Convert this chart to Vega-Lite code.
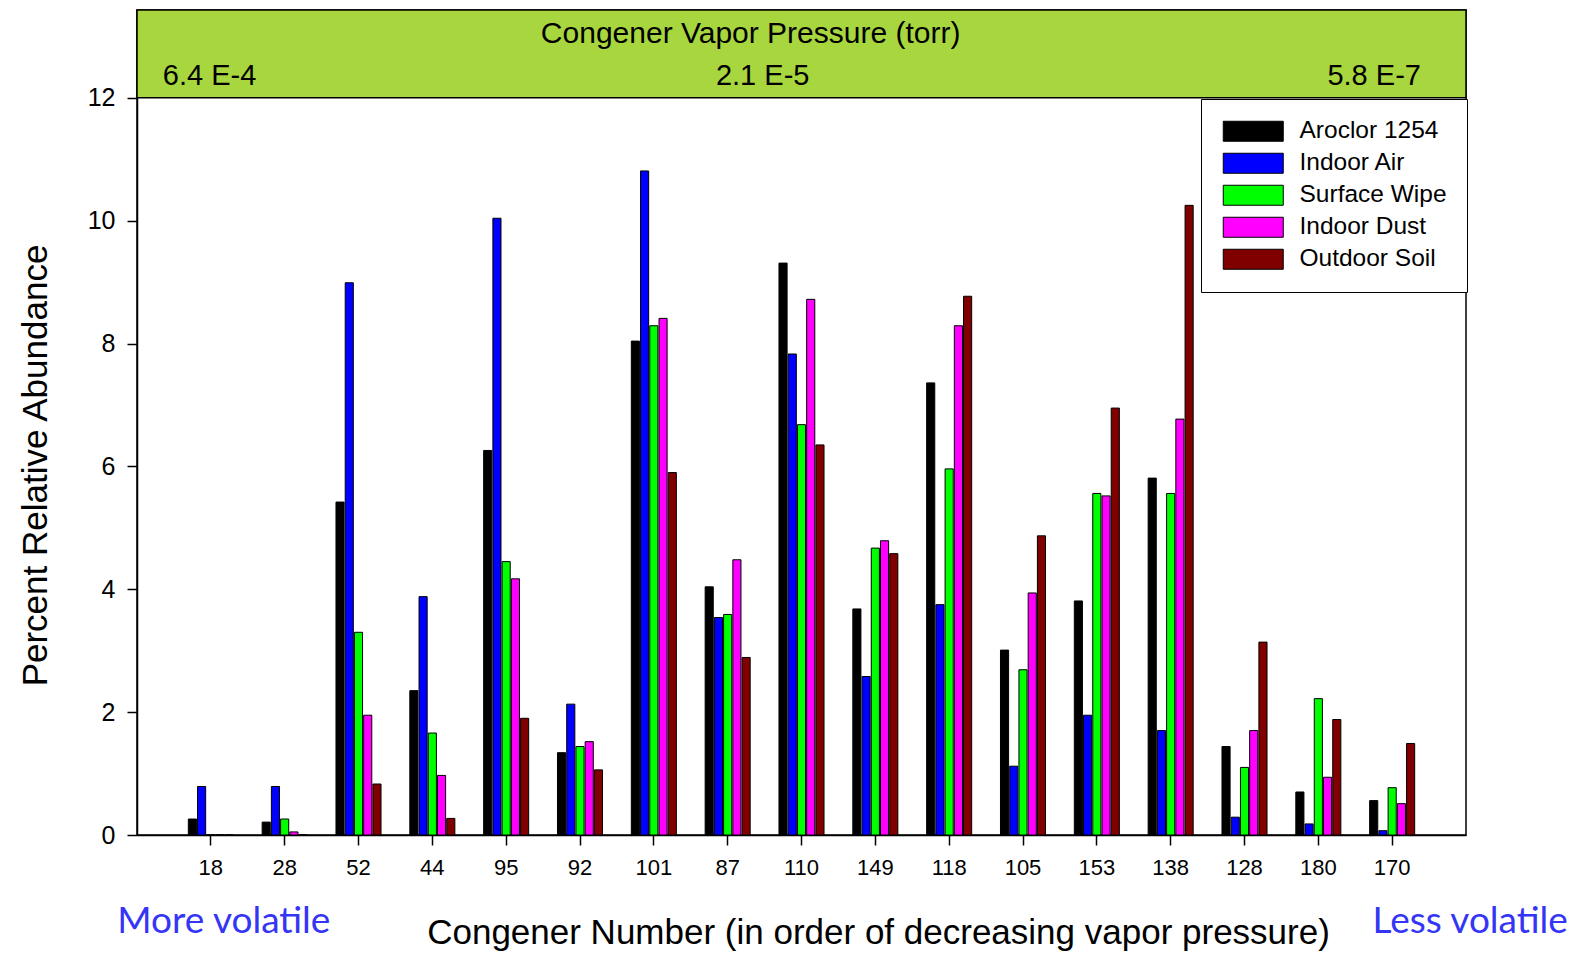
{
  "$schema": "https://vega.github.io/schema/vega-lite/v6.json",
  "autosize": {"type": "none"},
  "width": 1329,
  "height": 825,
  "padding": {"left": 137, "top": 10, "right": 109, "bottom": 119},
  "background": "white",
  "config": {
    "view": {"stroke": "black", "strokeWidth": 1.5},
    "font": "Liberation Sans",
    "legend": {"strokeColor": "black", "fillColor": "white", "padding": 20},
    "axis": {"domainColor": "black", "domainWidth": 1.5, "tickColor": "black", "tickWidth": 1.5, "labelColor": "black", "titleColor": "black", "grid": false, "labelFont": "Liberation Sans", "titleFont": "Liberation Sans", "titleFontWeight": "normal"}
  },
  "data": {"values": [
    {"congener": "18", "series": "Aroclor 1254", "value": 0.26},
    {"congener": "18", "series": "Indoor Air", "value": 0.79},
    {"congener": "18", "series": "Surface Wipe", "value": 0},
    {"congener": "18", "series": "Indoor Dust", "value": 0},
    {"congener": "18", "series": "Outdoor Soil", "value": 0},
    {"congener": "28", "series": "Aroclor 1254", "value": 0.21},
    {"congener": "28", "series": "Indoor Air", "value": 0.79},
    {"congener": "28", "series": "Surface Wipe", "value": 0.26},
    {"congener": "28", "series": "Indoor Dust", "value": 0.05},
    {"congener": "28", "series": "Outdoor Soil", "value": 0},
    {"congener": "52", "series": "Aroclor 1254", "value": 5.42},
    {"congener": "52", "series": "Indoor Air", "value": 8.99},
    {"congener": "52", "series": "Surface Wipe", "value": 3.30},
    {"congener": "52", "series": "Indoor Dust", "value": 1.95},
    {"congener": "52", "series": "Outdoor Soil", "value": 0.83},
    {"congener": "44", "series": "Aroclor 1254", "value": 2.35},
    {"congener": "44", "series": "Indoor Air", "value": 3.88},
    {"congener": "44", "series": "Surface Wipe", "value": 1.66},
    {"congener": "44", "series": "Indoor Dust", "value": 0.97},
    {"congener": "44", "series": "Outdoor Soil", "value": 0.27},
    {"congener": "95", "series": "Aroclor 1254", "value": 6.26},
    {"congener": "95", "series": "Indoor Air", "value": 10.04},
    {"congener": "95", "series": "Surface Wipe", "value": 4.45},
    {"congener": "95", "series": "Indoor Dust", "value": 4.17},
    {"congener": "95", "series": "Outdoor Soil", "value": 1.90},
    {"congener": "92", "series": "Aroclor 1254", "value": 1.34},
    {"congener": "92", "series": "Indoor Air", "value": 2.13},
    {"congener": "92", "series": "Surface Wipe", "value": 1.44},
    {"congener": "92", "series": "Indoor Dust", "value": 1.52},
    {"congener": "92", "series": "Outdoor Soil", "value": 1.06},
    {"congener": "101", "series": "Aroclor 1254", "value": 8.04},
    {"congener": "101", "series": "Indoor Air", "value": 10.81},
    {"congener": "101", "series": "Surface Wipe", "value": 8.29},
    {"congener": "101", "series": "Indoor Dust", "value": 8.41},
    {"congener": "101", "series": "Outdoor Soil", "value": 5.90},
    {"congener": "87", "series": "Aroclor 1254", "value": 4.04},
    {"congener": "87", "series": "Indoor Air", "value": 3.54},
    {"congener": "87", "series": "Surface Wipe", "value": 3.59},
    {"congener": "87", "series": "Indoor Dust", "value": 4.48},
    {"congener": "87", "series": "Outdoor Soil", "value": 2.89},
    {"congener": "110", "series": "Aroclor 1254", "value": 9.31},
    {"congener": "110", "series": "Indoor Air", "value": 7.83},
    {"congener": "110", "series": "Surface Wipe", "value": 6.68},
    {"congener": "110", "series": "Indoor Dust", "value": 8.72},
    {"congener": "110", "series": "Outdoor Soil", "value": 6.35},
    {"congener": "149", "series": "Aroclor 1254", "value": 3.68},
    {"congener": "149", "series": "Indoor Air", "value": 2.58},
    {"congener": "149", "series": "Surface Wipe", "value": 4.67},
    {"congener": "149", "series": "Indoor Dust", "value": 4.79},
    {"congener": "149", "series": "Outdoor Soil", "value": 4.58},
    {"congener": "118", "series": "Aroclor 1254", "value": 7.36},
    {"congener": "118", "series": "Indoor Air", "value": 3.75},
    {"congener": "118", "series": "Surface Wipe", "value": 5.96},
    {"congener": "118", "series": "Indoor Dust", "value": 8.29},
    {"congener": "118", "series": "Outdoor Soil", "value": 8.77},
    {"congener": "105", "series": "Aroclor 1254", "value": 3.01},
    {"congener": "105", "series": "Indoor Air", "value": 1.12},
    {"congener": "105", "series": "Surface Wipe", "value": 2.69},
    {"congener": "105", "series": "Indoor Dust", "value": 3.94},
    {"congener": "105", "series": "Outdoor Soil", "value": 4.87},
    {"congener": "153", "series": "Aroclor 1254", "value": 3.81},
    {"congener": "153", "series": "Indoor Air", "value": 1.95},
    {"congener": "153", "series": "Surface Wipe", "value": 5.56},
    {"congener": "153", "series": "Indoor Dust", "value": 5.52},
    {"congener": "153", "series": "Outdoor Soil", "value": 6.95},
    {"congener": "138", "series": "Aroclor 1254", "value": 5.81},
    {"congener": "138", "series": "Indoor Air", "value": 1.70},
    {"congener": "138", "series": "Surface Wipe", "value": 5.56},
    {"congener": "138", "series": "Indoor Dust", "value": 6.77},
    {"congener": "138", "series": "Outdoor Soil", "value": 10.25},
    {"congener": "128", "series": "Aroclor 1254", "value": 1.44},
    {"congener": "128", "series": "Indoor Air", "value": 0.29},
    {"congener": "128", "series": "Surface Wipe", "value": 1.10},
    {"congener": "128", "series": "Indoor Dust", "value": 1.70},
    {"congener": "128", "series": "Outdoor Soil", "value": 3.14},
    {"congener": "180", "series": "Aroclor 1254", "value": 0.70},
    {"congener": "180", "series": "Indoor Air", "value": 0.18},
    {"congener": "180", "series": "Surface Wipe", "value": 2.22},
    {"congener": "180", "series": "Indoor Dust", "value": 0.94},
    {"congener": "180", "series": "Outdoor Soil", "value": 1.88},
    {"congener": "170", "series": "Aroclor 1254", "value": 0.56},
    {"congener": "170", "series": "Indoor Air", "value": 0.07},
    {"congener": "170", "series": "Surface Wipe", "value": 0.77},
    {"congener": "170", "series": "Indoor Dust", "value": 0.51},
    {"congener": "170", "series": "Outdoor Soil", "value": 1.49}
  ]},
  "layer": [
    {
      "data": {"values": [{}]},
      "mark": {"type": "rect", "fill": "#a8d63e", "stroke": "black", "strokeWidth": 1.5},
      "encoding": {
        "y": {"datum": 12, "type": "quantitative", "scale": {"domain": [0, 13.43], "nice": false, "zero": true}, "title": "Percent Relative Abundance"},
        "y2": {"datum": 13.43}
      }
    },
    {
      "mark": {"type": "bar", "stroke": "black", "strokeWidth": 1},
      "encoding": {
        "x": {
          "field": "congener", "type": "nominal",
          "scale": {"domain": ["18","28","52","44","95","92","101","87","110","149","118","105","153","138","128","180","170"], "paddingInner": 0.39, "paddingOuter": 0.695},
          "title": "Congener Number (in order of decreasing vapor pressure)",
          "axis": {"labelAngle": 0, "labelFontSize": 22, "tickSize": 10, "labelPadding": 12, "bandPosition": 0.5, "titleFontSize": 35, "titleX": 741, "titleY": 97, "titleAlign": "center", "titleBaseline": "middle"}
        },
        "xOffset": {"field": "series", "type": "nominal", "sort": ["Aroclor 1254","Indoor Air","Surface Wipe","Indoor Dust","Outdoor Soil"], "scale": {"paddingInner": 0.12}},
        "y": {
          "field": "value", "type": "quantitative",
          "scale": {"domain": [0, 13.43], "nice": false},
          "title": "Percent Relative Abundance",
          "axis": {"values": [0,2,4,6,8,10,12], "format": "d", "labelFontSize": 25, "tickSize": 10, "labelPadding": 12, "titleFontSize": 35, "titleX": -102, "titleY": 455, "titleAlign": "center", "titleBaseline": "middle", "titleAngle": -90}
        },
        "color": {
          "field": "series", "type": "nominal",
          "scale": {"domain": ["Aroclor 1254","Indoor Air","Surface Wipe","Indoor Dust","Outdoor Soil"], "range": ["#000000","#0000ff","#00ff00","#ff00ff","#800000"]},
          "legend": {
            "title": null, "orient": "none", "legendX": 1064, "legendY": 89,
            "labelFontSize": 24.5, "labelFont": "Liberation Sans", "labelColor": "black", "labelOffset": 54,
            "symbolType": "M-1,-1H5V1H-1Z", "symbolSize": 400, "symbolStrokeColor": "black", "symbolStrokeWidth": 1, "symbolOpacity": 1,
            "rowPadding": 6
          }
        }
      }
    },
    {
      "data": {"values": [{}]},
      "mark": {"type": "text", "text": "Congener Vapor Pressure (torr)", "fontSize": 30, "font": "Liberation Sans", "align": "center", "baseline": "middle", "dx": 23, "color": "black"},
      "encoding": {"x": {"datum": "87", "type": "nominal"}, "y": {"datum": 13.04, "type": "quantitative"}}
    },
    {
      "data": {"values": [{}]},
      "mark": {"type": "text", "text": "6.4 E-4", "fontSize": 29, "font": "Liberation Sans", "align": "left", "baseline": "middle", "dx": -48, "color": "black"},
      "encoding": {"x": {"datum": "18", "type": "nominal"}, "y": {"datum": 12.36, "type": "quantitative"}}
    },
    {
      "data": {"values": [{}]},
      "mark": {"type": "text", "text": "2.1 E-5", "fontSize": 29, "font": "Liberation Sans", "align": "center", "baseline": "middle", "dx": 35, "color": "black"},
      "encoding": {"x": {"datum": "87", "type": "nominal"}, "y": {"datum": 12.36, "type": "quantitative"}}
    },
    {
      "data": {"values": [{}]},
      "mark": {"type": "text", "text": "5.8 E-7", "fontSize": 29, "font": "Liberation Sans", "align": "center", "baseline": "middle", "dx": -18, "color": "black"},
      "encoding": {"x": {"datum": "170", "type": "nominal"}, "y": {"datum": 12.36, "type": "quantitative"}}
    },
    {
      "data": {"values": [{}]},
      "mark": {"type": "text", "text": "More volatile", "fontSize": 37, "font": "Lato", "align": "center", "baseline": "middle", "dx": 13, "color": "#3535f5", "clip": false},
      "encoding": {"x": {"datum": "18", "type": "nominal"}, "y": {"datum": -1.42, "type": "quantitative"}}
    },
    {
      "data": {"values": [{}]},
      "mark": {"type": "text", "text": "Less volatile", "fontSize": 37, "font": "Lato", "align": "center", "baseline": "middle", "dx": 78, "color": "#3535f5", "clip": false},
      "encoding": {"x": {"datum": "170", "type": "nominal"}, "y": {"datum": -1.42, "type": "quantitative"}}
    }
  ]
}
